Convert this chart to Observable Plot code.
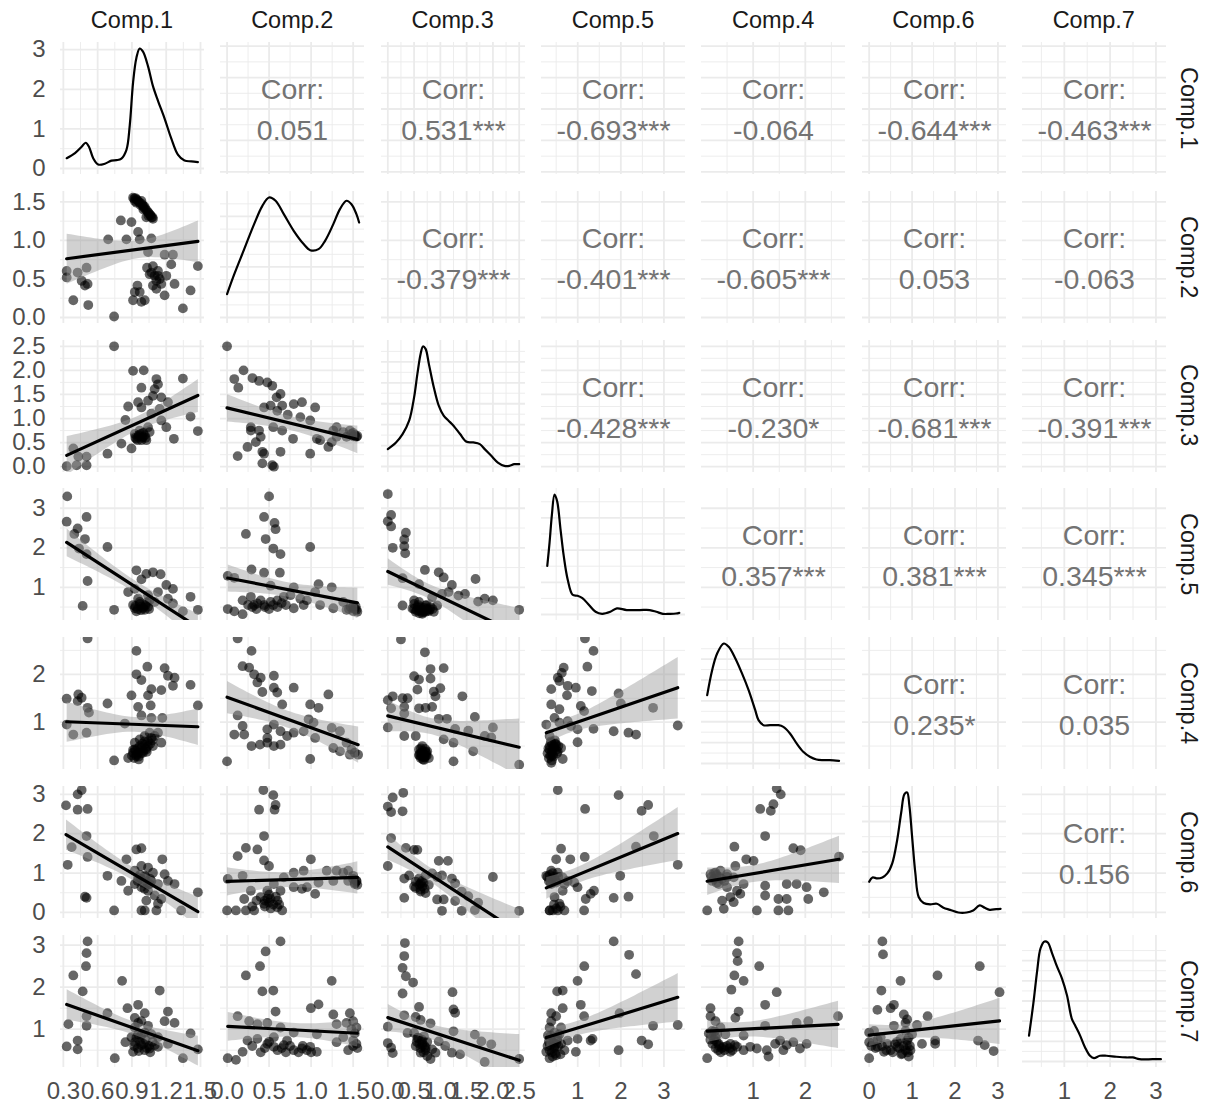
<!DOCTYPE html>
<html>
<head>
<meta charset="utf-8">
<script src="https://cdn.jsdelivr.net/npm/d3@7"></script>
<script src="https://cdn.jsdelivr.net/npm/@observablehq/plot@0.6"></script>
<style>
  body { margin: 0; background: #fff; }
  #fig { position: relative; width: 1208px; height: 1110px; overflow: hidden;
         font-family: "Liberation Sans", Arial, sans-serif; }
  .cell { position: absolute; }
  .strip-top { position: absolute; text-align: center; color: #1a1a1a; font-size: 23.5px;
               line-height: 26px; white-space: nowrap; }
  .strip-right { position: absolute; writing-mode: vertical-rl; text-align: center; color: #1a1a1a;
                 font-size: 23.5px; line-height: 26px; white-space: nowrap; }
</style>
</head>
<body>
<div id="fig"></div>
<script>
// Variables in the order they appear along both edges of the matrix
const variables = ["Comp.1", "Comp.2", "Comp.3", "Comp.5", "Comp.4", "Comp.6", "Comp.7"];
// Panel domains (data range plus padding) for each variable
const domains = [[0.275, 1.535], [-0.078, 1.635], [-0.12, 2.62], [0.16, 3.5], [0.01, 2.77], [-0.155, 3.2], [0.088, 3.23]];
// Labelled breaks for each variable
const majorBreaks = [[0.3, 0.6, 0.9, 1.2, 1.5], [0, 0.5, 1, 1.5], [0, 0.5, 1, 1.5, 2, 2.5], [1, 2, 3], [1, 2], [0, 1, 2, 3], [1, 2, 3]];
const tickFormats = [".1f", ".1f", ".1f", "d", "d", "d", "d"];

// Kernel density curves on the diagonal: [value, density]
const dens1 = [[.329,.26],[.402,.39],[.46,.55],[.495,.65],[.524,.55],[.561,.26],[.605,.1],[.663,.12],[.721,.2],[.765,.21],[.808,.25],[.852,.47],[.881,1.09],[.91,2.17],[.939,2.79],[.968,3.03],[.997,2.95],[1.041,2.58],[1.084,2.08],[1.128,1.71],[1.186,1.26],[1.244,.76],[1.302,.35],[1.36,.2],[1.419,.18],[1.477,.16]];
const dens2 = [[0,.185],[.086,.343],[.204,.541],[.322,.739],[.42,.884],[.499,.95],[.577,.924],[.675,.818],[.793,.686],[.911,.581],[.989,.533],[1.088,.541],[1.166,.607],[1.264,.739],[1.343,.858],[1.421,.924],[1.48,.897],[1.539,.818],[1.571,.752]];
const dens3 = [[0,.166],[.156,.23],[.281,.31],[.406,.438],[.5,.661],[.563,.885],[.625,1.077],[.669,1.147],[.719,1.124],[.781,.981],[.875,.757],[.969,.581],[1.063,.486],[1.156,.438],[1.25,.39],[1.375,.31],[1.5,.236],[1.625,.23],[1.75,.214],[1.844,.166],[1.969,.102],[2.094,.038],[2.219,.006],[2.313,.006],[2.406,.022],[2.5,.022]];
const dens5 = [[.294,.755],[.348,1.124],[.401,1.546],[.462,1.863],[.523,1.758],[.599,1.335],[.675,.913],[.767,.544],[.881,.306],[.995,.29],[1.109,.253],[1.262,.148],[1.414,.042],[1.566,.01],[1.757,.042],[1.909,.095],[2.137,.069],[2.442,.069],[2.671,.069],[2.823,.042],[2.975,.01],[3.128,.01],[3.28,.015],[3.356,.026]];
const dens4 = [[.119,.655],[.214,.894],[.31,1.054],[.437,1.15],[.532,1.118],[.659,1.006],[.786,.863],[.913,.703],[1.04,.511],[1.103,.415],[1.198,.367],[1.325,.367],[1.484,.367],[1.579,.351],[1.706,.288],[1.833,.192],[1.96,.112],[2.087,.064],[2.214,.038],[2.341,.032],[2.468,.032],[2.646,.026]];
const dens6 = [[0,.506],[.077,.578],[.192,.561],[.308,.578],[.423,.644],[.538,.811],[.654,1.2],[.746,1.644],[.823,1.95],[.885,1.978],[.938,1.756],[1.0,1.256],[1.077,.644],[1.154,.256],[1.269,.156],[1.423,.133],[1.577,.144],[1.731,.078],[1.885,.044],[2.077,0],[2.269,0],[2.423,.033],[2.577,.117],[2.692,.078],[2.808,.044],[2.962,.056],[3.062,.061]];
const dens7 = [[.23,.257],[.324,.573],[.41,.907],[.482,1.123],[.568,1.19],[.64,1.18],[.734,1.073],[.842,.94],[.95,.823],[1.058,.657],[1.165,.423],[1.237,.357],[1.345,.257],[1.453,.14],[1.561,.057],[1.647,.033],[1.777,.057],[1.921,.057],[2.137,.047],[2.353,.04],[2.496,.04],[2.64,.023],[2.928,.023],[3.108,.023]];

// Scatter panels below the diagonal: [column variable, row variable]
const sc21 = [[.91,1.555],[.939,1.534],[.968,1.491],[.997,1.449],[1.018,1.407],[1.041,1.365],[1.064,1.322],[1.084,1.28],[.925,1.512],[.983,1.512],[1.026,1.301],[.92,1.54],[.95,1.52],[.96,1.5],[.99,1.47],[1.0,1.43],[1.01,1.44],[1.03,1.39],[1.05,1.35],[1.06,1.33],[1.07,1.3],[.93,1.55],[.94,1.49],[.975,1.46],[1.0,1.4],[1.045,1.32],[1.08,1.3],[.692,1.014],[.803,1.259],[.896,1.238],[.852,1.014],[.954,1.111],[.968,1.014],[1.07,1.027],[1.041,.849],[1.186,.815],[1.259,.815],[1.244,.689],[1.032,.646],[1.084,.667],[1.128,.604],[1.099,.541],[1.143,.499],[1.201,.541],[1.055,.562],[1.157,.435],[1.273,.435],[1.114,.372],[1.186,.287],[.948,.414],[.968,.33],[.925,.33],[.91,.224],[.983,.203],[1.012,.224],[1.477,.667],[1.413,.351],[1.346,.118],[.329,.604],[.329,.52],[.425,.583],[.503,.646],[.46,.477],[.489,.414],[.512,.435],[.387,.224],[.518,.161],[.744,.013],[1.07,.583],[1.114,.477],[1.128,.541],[1.084,.414]];
const sc31 = [[.744,2.5],[.91,1.99],[1.003,2.0],[1.346,1.83],[1.114,1.82],[1.128,1.71],[1.099,1.61],[.983,1.64],[.867,1.25],[.954,1.34],[.983,1.23],[1.041,1.37],[1.215,1.34],[1.143,1.2],[1.07,1.1],[.843,.97],[1.157,.96],[1.201,.82],[1.413,1.04],[1.477,.74],[1.267,.58],[1.041,.82],[.925,.68],[.954,.62],[.983,.55],[1.012,.65],[1.055,.72],[.968,.75],[.808,.48],[.896,.38],[.686,.27],[.387,.38],[.431,.21],[.503,.21],[.329,.01],[.416,.03],[.503,.03],[.939,.58],[.997,.62],[1.026,.55],[1.084,1.47],[1.157,1.44],[.93,.6],[.96,.65],[.99,.6],[1.0,.7],[.95,.55],[1.02,.6],[.98,.68]];
const sc41 = [[.334,3.3],[.329,2.66],[.396,2.35],[.425,2.49],[.503,2.78],[.489,2.22],[.437,1.98],[.503,1.84],[.686,2.02],[.512,1.16],[.469,.53],[.744,.43],[.939,1.43],[1.026,1.34],[1.084,1.38],[1.151,1.33],[.983,1.2],[.925,.96],[.867,.88],[1.201,1.06],[1.259,.96],[1.128,.88],[1.041,.8],[.954,.71],[.91,.55],[.983,.51],[1.041,.51],[1.099,.63],[1.215,.71],[1.259,.59],[1.346,.39],[1.413,.76],[1.477,.43],[.939,.39],[1.012,.43],[.968,.63],[.997,.47],[1.055,.67],[.925,.47],[.95,.45],[.98,.42],[1.0,.5],[1.02,.55],[.93,.52],[1.05,.45],[.97,.58],[1.03,.62]];
const sc51 = [[.512,2.75],[.939,2.49],[1.035,2.16],[.939,2.0],[.983,1.88],[1.186,2.13],[1.215,1.97],[1.273,1.93],[1.413,1.78],[1.477,1.35],[.896,1.56],[1.041,1.56],[1.07,1.69],[1.157,1.67],[1.259,1.76],[1.064,1.35],[.954,1.32],[.983,1.14],[1.07,1.09],[1.166,1.09],[.329,1.49],[.431,1.58],[.46,1.51],[.425,1.44],[.512,1.3],[.524,1.2],[.686,1.39],[.329,.95],[.387,.74],[.503,.78],[.838,.97],[.867,.25],[.744,.2],[.925,.43],[.954,.36],[.983,.46],[1.012,.53],[1.041,.6],[1.07,.67],[1.099,.71],[1.128,.78],[.925,.57],[.968,.64],[1.012,.71],[1.055,.78],[.939,.29],[.997,.36],[1.084,.5],[1.157,.57],[.91,.36],[1.026,.43],[.9,.3],[.92,.25],[.94,.32],[.96,.28],[.98,.35],[1.0,.4],[1.02,.45],[1.04,.5],[.93,.4],[.95,.45],[.97,.5],[.99,.55],[1.01,.6],[1.06,.55],[1.08,.62],[.91,.42],[1.03,.38],[.96,.22]];
const sc61 = [[.323,2.72],[.425,3.0],[.46,3.11],[.425,2.61],[.512,2.63],[.503,1.94],[.338,1.21],[.373,1.66],[.512,1.41],[.503,.37],[.489,.4],[.686,.93],[.808,.8],[.852,1.35],[.939,1.6],[.983,1.63],[.867,.55],[.744,.05],[.983,.05],[1.012,.05],[1.114,.05],[1.166,1.35],[1.331,.05],[1.477,.51],[1.215,.8],[1.273,.72],[1.186,.97],[.925,1.06],[.983,1.18],[1.041,1.14],[1.084,1.01],[.954,.89],[1.012,.93],[1.07,.8],[1.128,.72],[.925,.72],[.983,.64],[1.041,.55],[1.099,.43],[1.026,.3],[1.128,.22],[1.157,.34],[1.055,.72],[.95,.8],[.98,.85],[1.0,.75],[1.02,.9],[1.04,.7],[.97,.95],[1.01,.6],[1.06,.85]];
const sc71 = [[.512,3.09],[.503,2.81],[.498,2.5],[.387,2.28],[.469,1.9],[.814,2.15],[1.143,1.92],[.686,1.38],[.861,1.5],[.954,1.58],[.503,1.31],[.344,1.12],[.503,1.08],[.329,.59],[.425,.52],[.425,.73],[.75,.31],[.843,.69],[1.215,1.42],[1.273,1.15],[1.186,1.19],[1.413,.9],[1.346,.31],[1.477,.52],[1.012,1.38],[.925,1.27],[.983,1.19],[1.041,1.08],[.925,1.04],[.954,.88],[1.012,.92],[1.07,.88],[1.128,.81],[.925,.69],[.983,.62],[1.055,.54],[1.128,.58],[1.215,.65],[.91,.46],[1.012,.5],[.896,.81],[.954,1.15],[.92,.6],[.95,.55],[.97,.7],[1.0,.65],[1.02,.75],[1.05,.6],[1.08,.7],[.94,.8],[.98,.85],[1.03,.55],[1.1,.62],[.96,.48],[1.06,.45]];
const sc32 = [[0,2.5],[.196,2.0],[.086,1.82],[.134,1.64],[.302,1.84],[.381,1.78],[.479,1.75],[.538,1.68],[.636,1.51],[.589,1.44],[.518,1.27],[.44,1.23],[.656,1.27],[.793,1.3],[.891,1.34],[1.048,1.23],[.597,1.16],[.722,1.08],[.872,1.03],[.989,.96],[.283,.82],[.283,.75],[.381,.75],[.55,.82],[.656,.75],[.4,.62],[.342,.51],[.243,.41],[.126,.22],[.42,.31],[.44,.27],[.636,.31],[.785,.58],[.989,.27],[.42,.07],[.538,.03],[.557,0],[1.068,.58],[1.205,.41],[1.264,.75],[1.303,.82],[1.382,.72],[1.461,.75],[1.5,.63],[1.539,.62],[1.421,.62],[1.245,.51],[1.303,.62],[1.107,.55],[1.48,.68],[1.52,.66],[1.55,.64],[1.5,.7]];
const sc42 = [[.5,3.3],[.44,2.78],[.565,2.63],[.577,2.47],[.459,2.22],[.55,1.98],[.636,1.84],[.224,2.35],[.989,2.02],[.291,1.45],[.44,1.37],[.628,1.37],[.518,1.04],[.793,1.0],[1.088,1.08],[1.245,1.0],[.008,1.29],[.086,1.24],[.185,.67],[.283,.76],[.361,.59],[.44,.55],[.518,.63],[.597,.67],[.675,.76],[.754,.8],[.872,.71],[.95,.67],[1.048,.88],[1.107,.55],[1.264,.47],[1.382,.63],[1.5,.51],[1.539,.43],[1.421,.43],[.008,.45],[.086,.39],[.185,.32],[.793,.47],[.911,.55],[.4,.67],[.322,.55],[.25,.55],[.3,.5],[.35,.45],[.45,.5],[.5,.45],[.55,.55],[.6,.5],[1.5,.4],[1.52,.45],[1.55,.38],[1.47,.5],[1.45,.45],[1.53,.52],[.65,.6],[.7,.55]];
const sc52 = [[.126,2.75],[.291,2.49],[.185,2.17],[.263,2.14],[.322,2.0],[.4,1.93],[.557,1.97],[.361,1.83],[.42,1.63],[.557,1.72],[.597,1.62],[.656,1.37],[.793,1.72],[1.205,1.58],[.989,1.37],[1.088,1.3],[.126,1.14],[.185,.92],[.086,.74],[.204,.74],[.291,.5],[.392,.53],[.479,.85],[.557,.95],[.636,.81],[.714,.71],[.793,.78],[.911,.81],[.97,1.06],[1.029,.99],[1.048,.67],[.479,.57],[.557,.5],[.636,.53],[.479,.67],[.989,.23],[0,.18],[1.245,.88],[1.343,.81],[1.264,.46],[1.343,.39],[1.421,.57],[1.48,.43],[1.519,.36],[1.559,.32],[1.461,.32]];
const sc62 = [[.432,3.11],[.55,2.98],[.577,2.73],[.381,2.61],[.565,2.61],[.44,1.94],[.224,1.64],[.361,1.6],[.126,1.43],[.44,1.32],[.997,1.35],[.499,1.18],[.185,.93],[.008,.85],[.283,.55],[.204,.34],[0,.05],[.106,.05],[.224,.05],[.322,.05],[.44,.22],[.518,.34],[.597,.13],[.656,.05],[.636,.55],[.557,.72],[.479,.55],[.4,.39],[.675,.89],[.793,1.01],[.911,1.06],[.793,.64],[.891,.6],[.95,.64],[1.048,.47],[1.088,.76],[1.186,1.06],[1.303,1.06],[1.382,1.01],[1.441,1.06],[1.5,.93],[1.539,.8],[1.519,.72],[1.264,.8],[1.441,.8],[.45,.3],[.5,.25],[.55,.2],[.6,.3],[.5,.45],[.45,.15],[.58,.4],[.62,.2],[.52,.1],[.48,.35],[.3,.15],[.35,.3],[1.52,.75],[1.55,.7],[1.5,.85],[1.54,.8]];
const sc72 = [[.636,3.09],[.459,2.85],[.392,2.5],[.224,2.28],[.55,1.92],[.42,1.9],[1.245,2.15],[.577,1.42],[1.088,1.59],[.997,1.5],[1.264,1.35],[1.461,1.38],[.126,1.31],[.263,1.19],[.361,1.12],[.479,1.15],[.636,1.04],[.793,.92],[1.068,.88],[1.303,1.12],[1.421,1.15],[1.5,1.19],[1.539,1.04],[.008,.31],[.106,.27],[.185,.46],[.243,.73],[.361,.77],[.479,.65],[.557,.58],[.675,.62],[.793,.5],[.891,.54],[.989,.58],[1.068,.46],[1.303,.69],[1.382,.81],[1.441,.5],[1.5,.73],[1.539,.65],[.557,.81],[.714,.73],[.3,.6],[.45,.55],[.5,.7],[.6,.5],[.65,.55],[.7,.45],[.75,.6],[.85,.45],[.9,.6],[.95,.5],[1.0,.45],[1.5,.6],[1.52,.9],[1.55,.55],[1.48,1.0],[.4,.45]];
const sc43 = [[0,3.36],[.063,2.83],[0,2.67],[.063,2.54],[.344,2.38],[.313,2.21],[.094,2.0],[.313,2.04],[.331,1.86],[.706,1.44],[.969,1.38],[1.063,1.25],[1.219,1.06],[1.669,1.21],[.281,1.23],[.594,1.08],[.281,.54],[2.5,.43],[2.0,.67],[1.844,.71],[1.719,.64],[1.469,.83],[1.344,.79],[1.156,.88],[1.031,.83],[.844,.75],[.5,.67],[.5,.58],[.563,.5],[.625,.42],[.688,.38],[.75,.42],[.813,.5],[.594,.63],[.719,.54],[.656,.33],[.875,.38],[.938,.54],[.469,.46],[.531,.38],[.5,.45],[.55,.42],[.6,.4],[.62,.5],[.65,.45],[.68,.42],[.7,.48],[.72,.38],[.75,.46],[.78,.4],[.8,.44],[.58,.55],[.66,.36],[.74,.55],[.85,.45],[.6,.34]];
const sc53 = [[.25,2.73],[.706,2.46],[.813,2.11],[1.063,2.13],[.5,1.96],[.594,1.89],[.813,1.91],[.563,1.68],[.875,1.64],[1.0,1.71],[.906,1.54],[1.419,1.54],[0,1.46],[.094,1.54],[.281,1.5],[.375,1.5],[.063,1.29],[.313,1.32],[.594,1.29],[.719,1.3],[.844,1.32],[0,.89],[.313,1.18],[.969,1.07],[1.125,1.07],[1.656,1.11],[2.0,.89],[1.281,.86],[1.531,.82],[1.844,.71],[1.969,.68],[1.625,.39],[.313,.71],[.531,.71],[1.063,.64],[1.25,.57],[1.25,.18],[2.5,.11],[.594,.43],[.656,.36],[.719,.29],[.625,.25],[.75,.39],[.688,.21],[.594,.32],[.781,.25],[.656,.5],[.6,.3],[.62,.35],[.64,.28],[.66,.4],[.68,.32],[.7,.26],[.72,.38],[.74,.3],[.63,.45],[.67,.22],[.71,.44],[.65,.33],[.69,.27],[.73,.35]];
const sc63 = [[.294,3.04],[.094,2.92],[0,2.69],[.063,2.55],[.281,2.57],[.063,1.89],[.344,1.64],[.5,1.59],[.563,1.59],[0,1.18],[.969,1.31],[1.144,1.31],[2.0,.9],[2.5,.04],[.313,.86],[.313,.37],[.406,.94],[.531,.78],[.656,.66],[.594,.86],[.719,.94],[.844,.99],[.938,.9],[1.031,.94],[1.219,.86],[1.281,.74],[1.406,.53],[1.531,.41],[1.719,.25],[1.656,.06],[1.406,.04],[1.063,.33],[.938,.33],[1.031,.04],[1.281,.29],[.719,.49],[.625,.53],[.531,.62],[.781,.7],[.5,.66],[.625,.74],[.6,.7],[.65,.8],[.7,.6],[.68,.75],[.62,.58]];
const sc73 = [[.325,3.05],[.313,2.74],[.281,2.46],[.344,2.26],[.481,2.11],[.281,1.85],[1.231,1.88],[1.25,1.47],[1.281,1.39],[.594,1.53],[.531,1.29],[.313,1.33],[0,1.06],[0,.67],[.063,.56],[.094,.43],[.375,.91],[.625,1.22],[.813,1.14],[1.25,.95],[1.656,.87],[1.781,.71],[1.969,.64],[2.5,.29],[1.844,.22],[1.375,.4],[1.219,.44],[1.094,.6],[.969,.71],[.844,.52],[.5,.91],[.563,.79],[.656,.67],[.719,.56],[.625,.44],[.75,.36],[.531,.6],[.688,.83],[.813,.29],[.906,.44],[.55,.7],[.6,.65],[.65,.75],[.7,.6],[.72,.5],[.62,.55],[.68,.45],[.58,.8],[.75,.7],[.66,.62]];
const sc54 = [[1.167,2.75],[1.366,2.49],[1.224,2.16],[.675,2.14],[.63,2.03],[.538,1.93],[.576,1.86],[.386,1.69],[.767,1.76],[.957,1.72],[.752,1.56],[.386,1.37],[1.328,1.65],[1.948,1.6],[1.071,1.34],[1.148,1.23],[2.748,1.3],[2.001,1.39],[.576,1.27],[.271,.95],[.462,1.09],[.576,.99],[.767,1.02],[.843,.92],[.996,.85],[1.366,.86],[1.834,.81],[2.177,.78],[2.352,.74],[3.32,.93],[.996,.58],[.348,.71],[.652,.23],[.386,.15],[.386,.57],[.462,.46],[.538,.39],[.348,.43],[.424,.32],[.5,.53],[.614,.46],[.386,.29],[.3,.35],[.33,.25],[.36,.3],[.4,.38],[.42,.45],[.45,.5],[.48,.55],[.35,.5],[.38,.6],[.44,.28],[.5,.42],[.52,.35],[.32,.45],[.4,.2],[.47,.62],[.55,.5]];
const sc64 = [[.538,3.11],[1.171,2.63],[1.948,2.98],[2.482,2.58],[2.634,2.73],[2.764,1.94],[2.352,1.67],[1.163,1.41],[.614,1.62],[.5,1.35],[.828,1.35],[1.986,.93],[.271,.93],[.386,1.06],[.538,1.01],[.652,.89],[.767,.8],[.919,.76],[.996,.64],[1.377,.55],[1.186,.34],[1.834,.37],[2.177,.4],[3.32,1.21],[.348,.05],[.538,.05],[.691,.05],[1.148,.05],[.576,.22],[.462,.39],[.652,.55],[.386,.72],[.5,.76],[.691,.72],[1.3,.47],[.3,.9],[.35,.95],[.4,.85],[.45,.9],[.5,.8],[.42,1.0],[.38,.75],[.33,.8],[.55,.9],[.35,.05],[.42,.05],[.5,.1],[.45,.2],[.6,.15]];
const sc74 = [[1.834,3.09],[2.192,2.77],[1.152,2.5],[2.352,2.31],[.996,2.15],[.523,1.9],[.652,1.92],[1.071,1.58],[1.148,1.31],[1.971,1.38],[.652,1.5],[.5,1.31],[.386,1.38],[.386,1.19],[.614,1.04],[2.748,1.08],[3.32,1.1],[1.343,.77],[1.3,.73],[.996,.77],[.957,.46],[1.948,.5],[2.482,.73],[2.634,.64],[.271,.46],[.348,.31],[.348,1.04],[.462,.92],[.538,.81],[.386,.73],[.614,.65],[.462,.58],[.691,.5],[.309,.85],[.576,.88],[.767,.73],[.5,.38],[.3,.6],[.35,.5],[.4,.45],[.45,.55],[.5,.65],[.55,.6],[.6,.4],[.33,.7],[.38,.85],[.42,.35],[.48,.42],[.52,.75],[.36,.62],[.44,.68]];
const sc65 = [[1.452,3.15],[1.529,3.0],[1.389,2.75],[1.135,2.63],[1.338,2.58],[1.23,1.94],[.64,1.67],[1.77,1.63],[1.91,1.58],[2.646,1.42],[.868,1.35],[1.008,1.31],[.659,1.18],[1.23,.68],[1.643,.72],[1.833,.72],[2.024,.64],[2.354,.51],[2.056,.34],[1.23,.43],[1.484,.34],[1.643,.34],[.119,.05],[.437,.09],[1.071,.05],[1.484,.05],[1.675,.05],[.627,.26],[.183,.97],[.278,1.01],[.373,1.06],[.5,.97],[.627,.89],[.214,.8],[.341,.72],[.5,.64],[.691,.55],[.564,.39],[.754,.47],[.405,.3],[.817,.72],[.2,.9],[.25,.85],[.3,.95],[.35,.9],[.4,.85],[.45,.8],[.3,.75],[.25,1.0],[.5,.9]];
const sc75 = [[.722,3.09],[.691,2.81],[.703,2.62],[1.116,2.5],[.64,2.28],[.817,2.15],[1.452,1.88],[.583,1.94],[1.23,1.58],[.722,1.42],[.183,1.5],[.659,1.27],[.183,1.31],[1.833,1.15],[2.056,1.19],[2.627,1.31],[1.23,1.08],[.119,.31],[.214,.96],[.278,.81],[.341,.65],[.437,.58],[.564,.65],[.691,.58],[.817,.5],[.944,.58],[1.071,.54],[1.262,.5],[1.421,.65],[1.516,.73],[1.643,.62],[1.77,.69],[1.897,.54],[2.024,.65],[1.579,.5],[1.294,.35],[.278,1.19],[.373,1.04],[.468,.88],[.564,.46],[.817,.85],[.15,.9],[.2,.85],[.25,.75],[.3,.7],[.35,.6],[.4,.55],[.45,.5],[.22,.65],[.28,.55],[.33,.5],[.38,.45],[.18,.75],[.5,.6],[.55,.55],[.6,.5],[.65,.62],[.26,.95],[.31,.88]];
const sc76 = [[.308,3.09],[.323,2.78],[2.577,2.5],[.731,2.15],[1.592,2.28],[.285,1.92],[3.038,1.88],[.192,1.46],[.5,1.5],[.577,1.58],[1.362,1.31],[.808,1.35],[.885,1.23],[0,.92],[.115,.96],[0,.69],[0,.31],[1.231,.65],[1.538,.65],[1.538,.73],[2.538,.73],[2.692,.62],[2.9,.48],[1.115,1.1],[.577,1.08],[.269,.81],[.423,.65],[.5,.5],[.654,.58],[.731,.77],[.846,.96],[.885,.73],[.962,.5],[.923,.35],[.769,.42],[.346,.46],[.192,.58],[.846,1.15],[1.0,.88],[.05,.6],[.1,.7],[.15,.55],[.3,.6],[.4,.5],[.55,.45],[.6,.65],[.7,.55],[.8,.6],[.85,.5],[.9,.45],[.95,.6],[.75,.4],[.65,.7],[.2,.75],[.88,.62],[.92,.8]];

// Pairwise correlations above the diagonal: [row, column, r, significance stars]
const correlations = [
  [0, 1, 0.051, ""], [0, 2, 0.531, "***"], [0, 3, -0.693, "***"], [0, 4, -0.064, ""], [0, 5, -0.644, "***"], [0, 6, -0.463, "***"],
  [1, 2, -0.379, "***"], [1, 3, -0.401, "***"], [1, 4, -0.605, "***"], [1, 5, 0.053, ""], [1, 6, -0.063, ""],
  [2, 3, -0.428, "***"], [2, 4, -0.230, "*"], [2, 5, -0.681, "***"], [2, 6, -0.391, "***"],
  [3, 4, 0.357, "***"], [3, 5, 0.381, "***"], [3, 6, 0.345, "***"],
  [4, 5, 0.235, "*"], [4, 6, 0.035, ""],
  [5, 6, 0.156, ""]
];

const densities = [dens1, dens2, dens3, dens5, dens4, dens6, dens7];
const scatter = {
  "1,0": sc21, "2,0": sc31, "3,0": sc41, "4,0": sc51, "5,0": sc61, "6,0": sc71,
  "2,1": sc32, "3,1": sc42, "4,1": sc52, "5,1": sc62, "6,1": sc72,
  "3,2": sc43, "4,2": sc53, "5,2": sc63, "6,2": sc73,
  "4,3": sc54, "5,3": sc64, "6,3": sc74,
  "5,4": sc65, "6,4": sc75,
  "6,5": sc76
};

// Panel grid geometry
const X0 = 60, DX = 160.3, PW = 144;
const Y0 = 42, DY = 148.8, PH = 132;
const AXIS_LEFT = 60, AXIS_BOTTOM = 46;
const GRID = "#ebebeb";

// Minor breaks sit halfway between labelled ones
function minorBreaks(majors, [lo, hi]) {
  const step = majors.length > 1 ? majors[1] - majors[0] : 1;
  const out = [majors[0] - step / 2, ...majors.map(m => m + step / 2)];
  return out.filter(v => v > lo && v < hi);
}

const fig = document.getElementById("fig");

for (let r = 0; r < 7; r++) {
  for (let c = 0; c < 7; c++) {
    const ml = c === 0 ? AXIS_LEFT : 0;
    const mb = r === 6 ? AXIS_BOTTOM : 0;
    const xDomain = domains[c];
    const xMajor = majorBreaks[c];
    const xMinor = minorBreaks(xMajor, xDomain);

    let yDomain, yMajor, yFormat;
    if (r === c) {
      const M = d3.max(densities[r], d => d[1]);
      yDomain = [-0.05 * M, 1.05 * M];
      yMajor = d3.ticks(0, M, 4);
      yFormat = "d";
    } else {
      yDomain = domains[r];
      yMajor = majorBreaks[r];
      yFormat = tickFormats[r];
    }
    const yMinor = minorBreaks(yMajor, yDomain);

    const marks = [
      Plot.ruleX(xMinor, {stroke: GRID, strokeWidth: 0.9}),
      Plot.ruleY(yMinor, {stroke: GRID, strokeWidth: 0.9}),
      Plot.ruleX(xMajor, {stroke: GRID, strokeWidth: 1.8}),
      Plot.ruleY(yMajor, {stroke: GRID, strokeWidth: 1.8})
    ];

    if (r === c) {
      marks.push(Plot.line(densities[r], {
        x: d => d[0], y: d => d[1], curve: "catmull-rom",
        stroke: "black", strokeWidth: 2.2
      }));
    } else if (r > c) {
      const pts = scatter[`${r},${c}`];
      marks.push(Plot.dot(pts, {
        x: d => d[0], y: d => d[1], r: 4.9,
        fill: "black", fillOpacity: 0.6, stroke: "none", clip: true
      }));
      marks.push(Plot.linearRegressionY(pts, {
        x: d => d[0], y: d => d[1], ci: 0.95,
        stroke: "black", strokeWidth: 3.2,
        fill: "#999999", fillOpacity: 0.45, clip: true
      }));
    } else {
      const [, , v, stars] = correlations.find(d => d[0] === r && d[1] === c);
      const label = `Corr:\n${d3.format(".3f")(v).replace("−", "-")}${stars}`;
      marks.push(Plot.text([label], {
        text: d => d, frameAnchor: "middle", dy: -2,
        fontSize: 28.5, lineHeight: 1.45, fill: "#737373"
      }));
    }

    if (c === 0) {
      marks.push(Plot.axisY(yMajor, {
        tickSize: 0, tickPadding: 15, fontSize: 24, label: null,
        tickFormat: d3.format(yFormat)
      }));
    }
    if (r === 6) {
      marks.push(Plot.axisX(xMajor, {
        tickSize: 0, tickPadding: 14, fontSize: 24, label: null,
        tickFormat: d3.format(tickFormats[c])
      }));
    }

    const chart = Plot.plot({
      width: PW + ml,
      height: PH + mb,
      marginLeft: ml, marginRight: 0, marginTop: 0, marginBottom: mb,
      x: {domain: xDomain, ...(r === 6 ? {} : {axis: null})},
      y: {domain: yDomain, ...(c === 0 ? {} : {axis: null})},
      style: {
        fontFamily: '"Liberation Sans", Arial, sans-serif',
        color: "#4d4d4d", background: "transparent", overflow: "visible"
      },
      marks
    });
    chart.classList.add("cell");
    chart.style.left = `${X0 + DX * c - ml}px`;
    chart.style.top = `${Y0 + DY * r}px`;
    fig.appendChild(chart);
  }
}

// Strip labels: variable names along the top and down the right side
variables.forEach((name, i) => {
  const top = document.createElement("div");
  top.className = "strip-top";
  top.textContent = name;
  top.style.left = `${X0 + DX * i}px`;
  top.style.width = `${PW}px`;
  top.style.top = "7px";
  fig.appendChild(top);

  const side = document.createElement("div");
  side.className = "strip-right";
  side.textContent = name;
  side.style.left = "1176px";
  side.style.top = `${Y0 + DY * i}px`;
  side.style.height = `${PH}px`;
  side.style.width = "26px";
  fig.appendChild(side);
});
</script>
</body>
</html>
